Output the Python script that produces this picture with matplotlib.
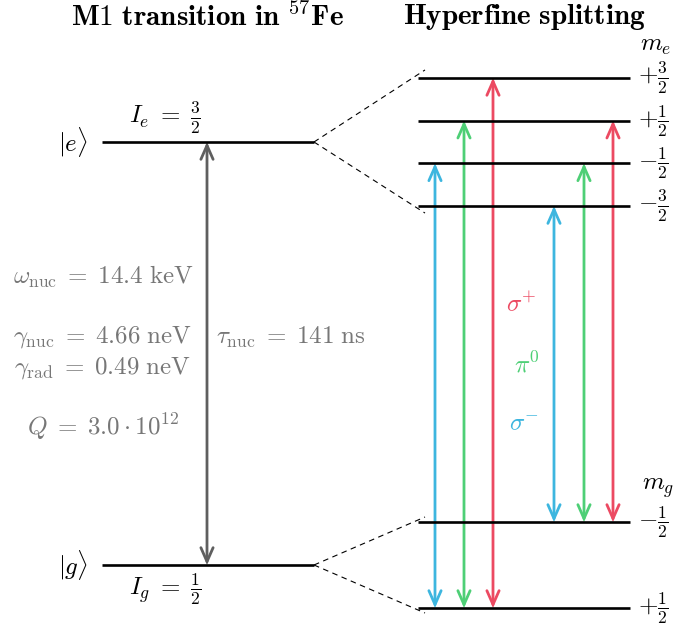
import matplotlib.pyplot as plt
from matplotlib.patches import FancyArrowPatch

plt.rcParams["mathtext.fontset"] = "cm"
plt.rcParams["font.family"] = ["DejaVu Serif"]

# level heights (diagram units, bottom = 0)
E_EXCITED = 488
E_GROUND = 65
m_e = [1.5, 0.5, -0.5, -1.5]
m_g = [-0.5, 0.5]
m_e_labels = [r"$+\frac{3}{2}$", r"$+\frac{1}{2}$", r"$-\frac{1}{2}$", r"$-\frac{3}{2}$"]
m_g_labels = [r"$-\frac{1}{2}$", r"$+\frac{1}{2}$"]
split_e = 42.7   # shift per unit m, excited state
split_g = -86.0  # shift per unit m, ground state

# allowed transitions: (m_e, m_g)
transitions = [(-0.5, 0.5), (0.5, 0.5), (1.5, 0.5),
               (-1.5, -0.5), (-0.5, -0.5), (0.5, -0.5)]
trans_x = [435, 464, 493, 554, 584, 613]

COLORS = {-1: "#3db6df", 0: "#4ecf76", 1: "#ec4a62"}
GRAY_TXT = "#777777"
GRAY_ARR = "#5f5f5f"

EQ = r"\;=\;"
params = [
    (r"$\omega_{\rm nuc}" + EQ + r"14.4\ {\rm keV}$", 353),
    (r"$\gamma_{\rm nuc}" + EQ + r"4.66\ {\rm neV}$", 293),
    (r"$\gamma_{\rm rad}" + EQ + r"0.49\ {\rm neV}$", 262),
    (r"$Q" + EQ + r"3.0 \cdot 10^{12}$", 203),
]


def y_e(m):
    return E_EXCITED + split_e * m


def y_g(m):
    return E_GROUND + split_g * m


def arrow(ax, x, y0, y1, color, lw=2.0):
    p = FancyArrowPatch((x, y0), (x, y1),
                        arrowstyle="<->,head_length=0.5,head_width=0.22",
                        mutation_scale=20, color=color, lw=lw,
                        shrinkA=0, shrinkB=0, joinstyle="miter")
    ax.add_patch(p)


def main():
    fig = plt.figure(figsize=(6.75, 6.3), dpi=100)
    ax = fig.add_axes([0, 0, 1, 1])
    ax.set_xlim(0, 675)
    ax.set_ylim(0, 630)
    ax.axis("off")

    fs = 18

    # left: unsplit levels
    ax.plot([102, 314], [E_EXCITED, E_EXCITED], color="black", lw=1.9, solid_capstyle="butt")
    ax.plot([102, 314], [E_GROUND, E_GROUND], color="black", lw=1.9, solid_capstyle="butt")
    arrow(ax, 207, E_GROUND, E_EXCITED, GRAY_ARR, lw=2.0)

    ax.text(73, E_EXCITED, r"$|e\rangle$", fontsize=fs, ha="center", va="center")
    ax.text(73, E_GROUND, r"$|g\rangle$", fontsize=fs, ha="center", va="center")
    ax.text(165, E_EXCITED + 6, r"$I_e" + EQ + r"\frac{3}{2}$", fontsize=fs, ha="center", va="bottom")
    ax.text(165, E_GROUND - 6, r"$I_g" + EQ + r"\frac{1}{2}$", fontsize=fs, ha="center", va="top")

    for txt, y in params:
        ax.text(103, y, txt, fontsize=fs, color=GRAY_TXT, ha="center", va="center")
    ax.text(216, 293, r"$\tau_{\rm nuc}" + EQ + r"141\ {\rm ns}$", fontsize=fs,
            color=GRAY_TXT, ha="left", va="center")

    # right: hyperfine sublevels
    for m, lab in zip(m_e, m_e_labels):
        ax.plot([418, 630], [y_e(m)] * 2, color="black", lw=1.9, solid_capstyle="butt")
        ax.text(638, y_e(m), lab, fontsize=fs, ha="left", va="center")
    for m, lab in zip(m_g, m_g_labels):
        ax.plot([418, 630], [y_g(m)] * 2, color="black", lw=1.9, solid_capstyle="butt")
        ax.text(638, y_g(m), lab, fontsize=fs, ha="left", va="center")

    ax.text(656, y_e(1.5) + 32, r"$m_e$", fontsize=fs, ha="center", va="center")
    ax.text(658, y_g(-0.5) + 34, r"$m_g$", fontsize=fs, ha="center", va="center")

    # dashed connectors
    top_e, bot_e = max(y_e(m) for m in m_e), min(y_e(m) for m in m_e)
    top_g, bot_g = max(y_g(m) for m in m_g), min(y_g(m) for m in m_g)
    for yc, yt in [(E_EXCITED, top_e + 8), (E_EXCITED, bot_e - 7),
                   (E_GROUND, top_g + 5), (E_GROUND, bot_g - 5)]:
        ax.plot([314, 425], [yc, yt], color="black", lw=0.8, dashes=(5, 4))

    # transitions
    for (me, mg), x in zip(transitions, trans_x):
        dm = int(round(me - mg))
        arrow(ax, x, y_g(mg), y_e(me), COLORS[dm])

    ax.text(521, 325, r"$\sigma^{+}$", fontsize=fs, color=COLORS[1], ha="center", va="center")
    ax.text(527, 265, r"$\pi^{0}$", fontsize=fs, color=COLORS[0], ha="center", va="center")
    ax.text(524, 205, r"$\sigma^{-}$", fontsize=fs, color=COLORS[-1], ha="center", va="center")

    # titles
    ax.text(207, 613, r"$\mathbf{M1\ transition\ in}\ {}^{57}\mathbf{Fe}$",
            fontsize=21, ha="center", va="center")
    ax.text(524, 613, r"$\mathbf{Hyperfine\ splitting}$",
            fontsize=21, ha="center", va="center")

    fig.savefig("out.png", dpi=100)
    plt.close(fig)


if __name__ == "__main__":
    main()
